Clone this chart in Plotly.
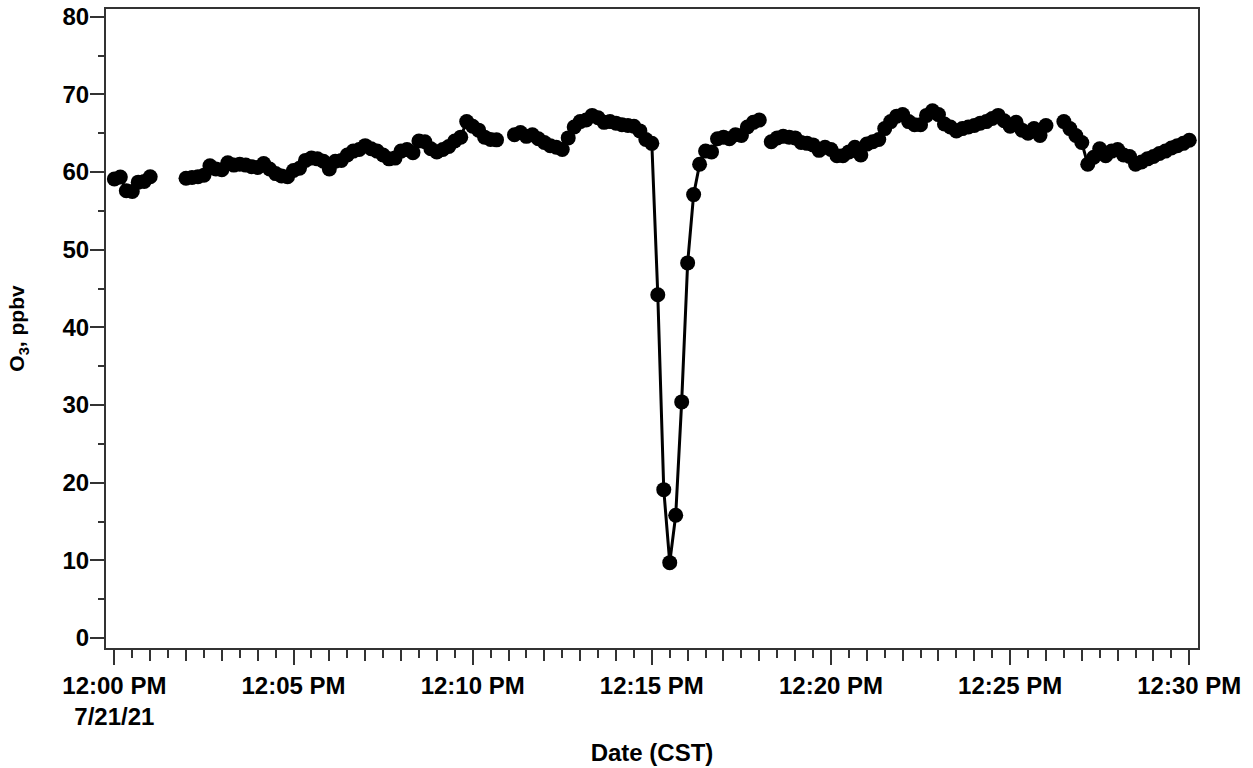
import pandas as pd
import plotly.graph_objects as go

# Ozone mixing ratio, one reading every 10 s starting 12:00:00 CST (None = no reading)
o3_ppbv = [
    59.1, 59.35, 57.6, 57.5, 58.7, 58.8, 59.4,
    None, None, None, None, None,
    59.2, 59.3, 59.4, 59.6,
    60.8, 60.4, 60.3, 61.2, 60.9, 61.0, 60.9, 60.7, 60.6,
    61.1, 60.4, 59.8, 59.5, 59.4, 60.2, 60.5,
    61.5, 61.8, 61.7, 61.4, 60.4, 61.4, 61.5,
    62.2, 62.7, 62.9, 63.4, 63.0, 62.7,
    62.2, 61.7, 61.8, 62.7, 62.9, 62.5,
    64.0, 63.9, 63.0, 62.6, 62.9, 63.3, 64.0, 64.5,
    66.5, 65.9, 65.4, 64.5, 64.2, 64.15,
    None, None,
    64.8, 65.1, 64.6, 64.8, 64.3, 63.8, 63.4, 63.2, 62.9,
    64.4, 65.8, 66.5, 66.7, 67.3, 67.0, 66.4, 66.5, 66.3, 66.1,
    66.0, 65.9, 65.3, 64.2, 63.7,
    44.2, 19.1, 9.7, 15.8, 30.4, 48.3, 57.1, 61.0, 62.7, 62.6,
    64.3, 64.5, 64.3, 64.8, 64.7, 65.8, 66.4, 66.7,
    None,
    63.9, 64.4, 64.6, 64.5, 64.4, 63.8, 63.7, 63.5, 62.8, 63.2,
    62.9, 62.1, 62.1, 62.6, 63.2, 62.2, 63.6, 63.9, 64.2,
    65.6, 66.5, 67.2, 67.4, 66.5, 66.1, 66.1, 67.3, 67.9, 67.4,
    66.2, 65.8, 65.3, 65.6, 65.8, 66.0, 66.3, 66.5, 66.9, 67.3,
    66.6, 65.9, 66.4, 65.4, 65.0, 65.6, 64.7, 66.0,
    None, None,
    66.5, 65.6, 64.7, 63.8, 61.0, 61.9, 63.0, 62.1, 62.7, 62.9,
    62.2, 62.0, 61.0, 61.3, 61.7, 62.0, 62.4, 62.7, 63.1, 63.4,
    63.7, 64.1,
]
sample_times = pd.date_range("2021-07-21 12:00:00", periods=len(o3_ppbv), freq="10s")

tick_times = ["2021-07-21 12:00", "2021-07-21 12:05", "2021-07-21 12:10",
              "2021-07-21 12:15", "2021-07-21 12:20", "2021-07-21 12:25",
              "2021-07-21 12:30"]
tick_labels = ["12:00 PM<br>7/21/21", "12:05 PM", "12:10 PM", "12:15 PM",
               "12:20 PM", "12:25 PM", "12:30 PM"]
x_range = ["2021-07-21 11:59:46", "2021-07-21 12:30:14.6"]
y_range = [-1.29, 81.0]

FONT = "Liberation Sans"
AX = "#333333"
label_font = dict(family=FONT, size=24, color="black", weight="bold")

fig = go.Figure()
fig.add_trace(go.Scatter(
    x=sample_times, y=o3_ppbv, mode="lines+markers",
    line=dict(color="black", width=3),
    marker=dict(color="black", size=15),
    connectgaps=False, showlegend=False,
))
# empty trace so the 1-minute tick axis is drawn
fig.add_trace(go.Scatter(x=[], y=[], xaxis="x2", showlegend=False, hoverinfo="skip"))

fig.update_layout(
    width=1253, height=768,
    margin=dict(l=106, r=55, t=9, b=120),
    plot_bgcolor="white", paper_bgcolor="white",
    xaxis=dict(
        type="date", range=x_range, automargin=False,
        tickvals=tick_times, ticktext=tick_labels,
        ticks="outside", ticklen=15, tickwidth=2, tickcolor=AX,
        showline=True, linecolor=AX, linewidth=2, mirror=True,
        showgrid=False, zeroline=False,
        tickfont=label_font,
        minor=dict(dtick=30000, ticks="outside", ticklen=8, tickwidth=2,
                   tickcolor=AX, showgrid=False),
        title=dict(text="Date (CST)", font=label_font, standoff=15),
    ),
    xaxis2=dict(
        type="date", range=x_range, overlaying="x", anchor="y", side="bottom",
        tick0="2021-07-21 12:00", dtick=60000, automargin=False,
        ticks="outside", ticklen=12, tickwidth=2, tickcolor=AX,
        showticklabels=False, showline=False, showgrid=False, zeroline=False,
    ),
    yaxis=dict(
        range=y_range, tick0=0, dtick=10, automargin=False,
        ticks="outside", ticklen=14, tickwidth=2, tickcolor=AX,
        showline=True, linecolor=AX, linewidth=2, mirror=True,
        showgrid=False, zeroline=False,
        tickfont=label_font, ticklabelstandoff=-4,
        minor=dict(dtick=5, ticks="outside", ticklen=6, tickwidth=2,
                   tickcolor=AX, showgrid=False),
        title=dict(text="O<sub>3</sub>, ppbv",
                   font=dict(family=FONT, size=21, color="black", weight="bold"),
                   standoff=32),
    ),
)

fig.write_html("out.html")
